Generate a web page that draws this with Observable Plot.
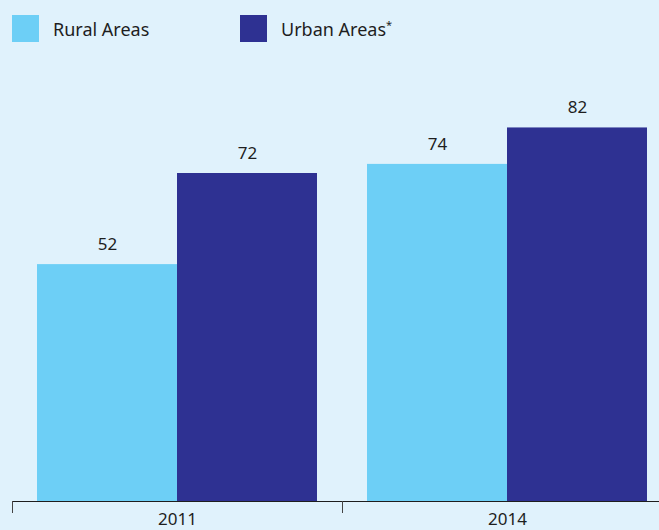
<!DOCTYPE html>
<html>
<head>
<meta charset="utf-8">
<script src="https://cdn.jsdelivr.net/npm/d3@7"></script>
<script src="https://cdn.jsdelivr.net/npm/@observablehq/plot@0.6"></script>
<style>
  html, body { margin: 0; padding: 0; background: #e0f2fc; }
  body { width: 659px; height: 530px; overflow: hidden; font-family: "Noto Sans", sans-serif; color: #1e1e1e; }
  #legend { height: 56px; position: relative; }
  .item { position: absolute; top: 15px; display: flex; align-items: center; font-size: 18px; }
  .sw { width: 27px; height: 27px; margin-right: 14px; }
  svg { display: block; }
</style>
</head>
<body>
<div id="legend"></div>
<div id="chart"></div>
<script>
const years = ["2011", "2014"];
const series = ["Rural Areas", "Urban Areas*"];
const rural = [52, 74];
const urban = [72, 82];
const colors = ["#6dcff6", "#2e3192"];
const legendX = [12, 240];

const data = years.flatMap((y, i) => [
  {year: y, series: series[0], value: rural[i]},
  {year: y, series: series[1], value: urban[i]}
]);

// legend
const leg = document.getElementById("legend");
series.forEach((s, i) => {
  const d = document.createElement("div");
  d.className = "item";
  d.style.left = legendX[i] + "px";
  const sw = document.createElement("div");
  sw.className = "sw";
  sw.style.background = colors[i];
  const t = document.createElement("span");
  if (s.endsWith("*")) {
    t.innerHTML = s.slice(0, -1) + '<sup style="font-size:11px">*</sup>';
  } else t.textContent = s;
  d.append(sw, t);
  leg.append(d);
});

const W = 659, H = 474, mL = 12, mR = -13;
const step = (W - mL - mR) / years.length;

const chart = Plot.plot({
  width: W,
  height: H,
  marginLeft: mL,
  marginRight: mR,
  marginTop: 35,
  marginBottom: 29,
  style: {background: "transparent", fontFamily: "Noto Sans, sans-serif", color: "#1e1e1e"},
  fx: {domain: years, padding: 0, label: null, axis: null},
  x: {domain: series, paddingInner: 0, paddingOuter: 0.178, axis: null},
  y: {domain: [0, 90], axis: null},
  color: {domain: series, range: colors},
  marks: [
    Plot.barY(data, {fx: "year", x: "series", y: "value", fill: "series"}),
    Plot.text(data, {fx: "year", x: "series", y: "value", text: d => String(d.value), dy: -20, fontSize: 17, fill: "#1e1e1e"}),
    Plot.ruleY([0], {stroke: "#1e1e1e", strokeWidth: 1.2}),
    Plot.axisFx({anchor: "bottom", tickSize: 12, tickFormat: () => "", dx: -step / 2, stroke: "#444", tickPadding: 0}),
    Plot.axisFx({anchor: "bottom", tickSize: 0, tickPadding: 11, fontSize: 17, fill: "#1e1e1e", label: null})
  ]
});
document.getElementById("chart").append(chart);
</script>
</body>
</html>
